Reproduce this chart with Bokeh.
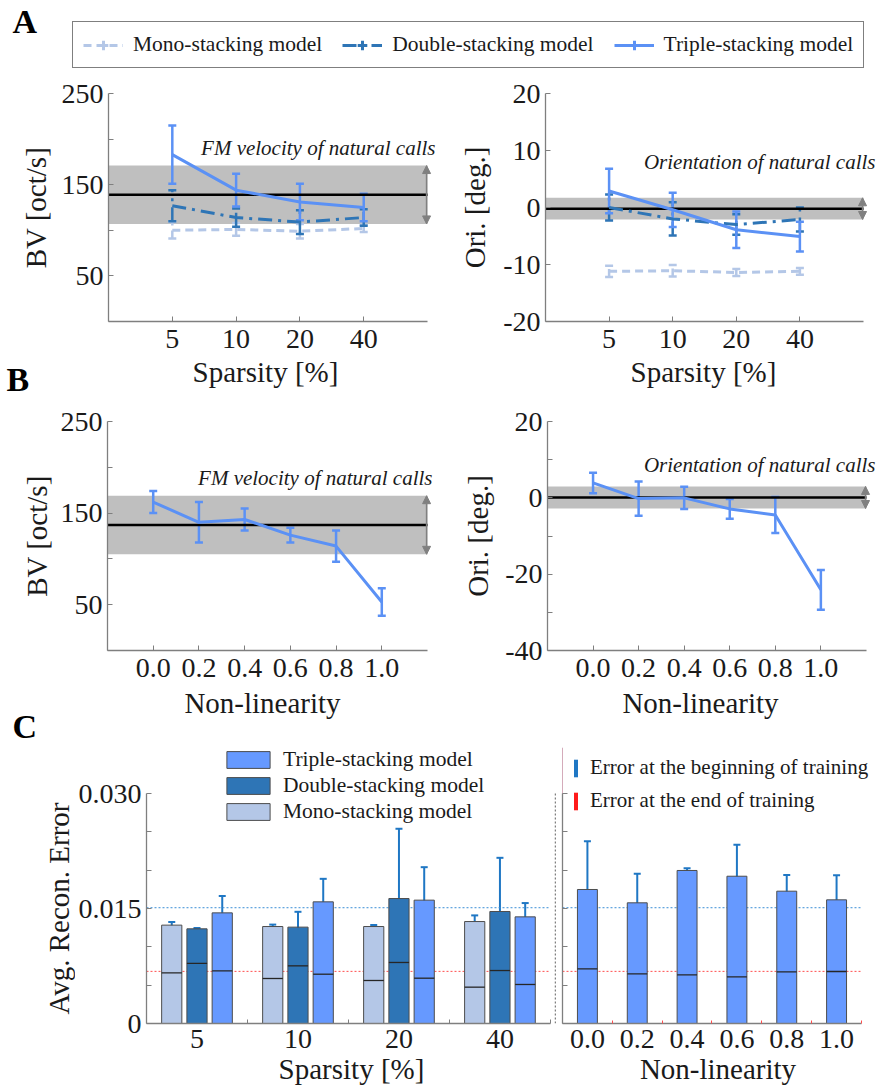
import numpy as np
from bokeh.plotting import figure
from bokeh.models import (ColumnDataSource, Whisker, TeeHead, BoxAnnotation, Arrow,
                          NormalHead, Label, Legend, LegendItem, FixedTicker)
from bokeh.layouts import column, row
from bokeh.embed import file_html
from bokeh.resources import INLINE

SERIF = "Liberation Serif"
AXIS_GRAY = "#7f7f7f"
TEXT_DARK = "#1a1a1a"
MONO = "#b4c7e7"
DOUBLE = "#2e75b6"
TRIPLE_LINE = "#5b91f5"
TRIPLE_BAR = "#6699ff"
BLUE_ERR = "#1f77c4"
RED_ERR = "#ff1a1a"

# ---------------- data ----------------
sparsity_labels = ["5", "10", "20", "40"]
sparsity_idx = [1, 2, 3, 4]

mono_bv = [100, 101, 99, 102]
mono_bv_err = [9, 7, 8, 4]
double_bv = [127, 114, 109, 114]
double_bv_err = [17, 10, 13, 9]
triple_bv = [183, 144, 131, 125]
triple_bv_err = [32, 18, 20, 15]
natural_bv_sparsity = [139, 32]          # mean, spread

mono_ori = [-11.2, -11.1, -11.4, -11.2]
mono_ori_err = [1.0, 1.0, 0.6, 0.6]
double_ori = [0.0, -2.0, -3.0, -2.1]
double_ori_err = [2.3, 2.9, 1.8, 2.1]
triple_ori = [2.9, -0.4, -3.9, -5.1]
triple_ori_err = [3.9, 3.0, 3.2, 2.6]
natural_ori_sparsity = [-0.2, 1.9]

nonlinearity = [0.0, 0.2, 0.4, 0.6, 0.8, 1.0]
nonlinearity_labels = ["0.0", "0.2", "0.4", "0.6", "0.8", "1.0"]
triple_bv_nl = [162, 140, 143, 126, 114, 53]
triple_bv_nl_err = [12, 22, 12, 8, 17, 15]
natural_bv_nl = [137, 32]
triple_ori_nl = [3.9, -0.2, 0.0, -2.9, -4.5, -24.1]
triple_ori_nl_err = [2.7, 4.5, 2.9, 2.6, 4.7, 5.2]
natural_ori_nl = [0.1, 2.9]

# C: reconstruction error at beginning / end of training
mono_begin = [0.01283, 0.01265, 0.01265, 0.0133]
mono_begin_err = [0.0004, 0.00025, 0.0002, 0.0008]
mono_end = [0.00661, 0.00587, 0.00561, 0.00474]
mono_end_err = [0.0004, 0.0004, 0.00043, 0.0004]
double_begin = [0.01235, 0.01257, 0.0163, 0.01461]
double_begin_err = [0.0001, 0.002, 0.0091, 0.0070]
double_end = [0.00783, 0.00752, 0.00796, 0.00691]
double_end_err = [0.00065, 0.0009, 0.00135, 0.00087]
triple_begin = [0.01443, 0.01587, 0.01609, 0.01391]
triple_begin_err = [0.0022, 0.003, 0.0043, 0.0018]
triple_end = [0.00687, 0.00643, 0.00591, 0.00509]
triple_end_err = [0.00045, 0.00048, 0.00065, 0.0002]

nl_begin = [0.01748, 0.01574, 0.01996, 0.01921, 0.01726, 0.01613]
nl_begin_err = [0.0063, 0.0038, 0.0003, 0.0041, 0.0021, 0.0032]
nl_end = [0.00713, 0.00648, 0.00635, 0.00609, 0.00674, 0.00678]
nl_end_err = [0.0019, 0.0009, 0.0001, 0.0001, 0.00005, 0.0001]
ref_begin_level = 0.0151
ref_end_level = 0.0068


# ---------------- helpers ----------------
def style_axes(p, x_standoff=8, x_label_standoff=1, y_label_standoff=6):
    p.grid.visible = False
    p.outline_line_color = None
    for ax in p.axis:
        ax.axis_line_color = AXIS_GRAY
        ax.axis_line_width = 1.3
        ax.major_tick_line_color = AXIS_GRAY
        ax.minor_tick_line_color = AXIS_GRAY
        ax.major_tick_in = 5
        ax.major_tick_out = 0
        ax.minor_tick_in = 5
        ax.minor_tick_out = 0
        ax.major_label_text_font = SERIF
        ax.major_label_text_font_size = "28px"
        ax.major_label_text_color = TEXT_DARK
        ax.axis_label_text_font = SERIF
        ax.axis_label_text_font_size = "29px"
        ax.axis_label_text_font_style = "normal"
        ax.axis_label_text_color = TEXT_DARK
    p.xaxis.major_label_standoff = x_standoff
    p.xaxis.axis_label_standoff = x_label_standoff
    p.yaxis.major_label_standoff = 5
    p.yaxis.axis_label_standoff = y_label_standoff


def add_series(p, x, y, err, color, dash, lw=3):
    lo = [a - b for a, b in zip(y, err)]
    hi = [a + b for a, b in zip(y, err)]
    src = ColumnDataSource(dict(x=x, y=y, lo=lo, hi=hi))
    r = p.line("x", "y", source=src, line_color=color, line_width=lw, line_dash=dash)
    p.add_layout(Whisker(source=src, base="x", lower="lo", upper="hi", line_color=color,
                         line_width=2.5, line_dash=dash,
                         upper_head=TeeHead(size=8, line_color=color, line_width=2.5),
                         lower_head=TeeHead(size=8, line_color=color, line_width=2.5)))
    return r


def add_natural(p, stats, x0, x1, x_arrow, text, text_x, text_y):
    mean, spread = stats
    lo, hi = mean - spread, mean + spread
    p.add_layout(BoxAnnotation(left=x0, right=x1, bottom=lo, top=hi, fill_color="#bfbfbf",
                               fill_alpha=1.0, line_color=None, level="underlay"))
    p.segment(x0=[x0], x1=[x1], y0=[mean], y1=[mean], line_color="black", line_width=2.5)
    g = "#808080"
    p.add_layout(Arrow(start=NormalHead(size=8, fill_color=g, line_color=g),
                       end=NormalHead(size=8, fill_color=g, line_color=g),
                       x_start=x_arrow, y_start=lo, x_end=x_arrow, y_end=hi,
                       line_color=g, line_width=1.5))
    p.add_layout(Label(x=text_x, y=text_y, x_offset=-3, text=text, text_align="right",
                       text_baseline="alphabetic", text_font=SERIF, text_font_style="italic",
                       text_font_size="21px", text_color=TEXT_DARK))


def blank_fig(width, height, y_range=(0, 1)):
    f = figure(width=width, height=height, x_range=(0, 1), y_range=y_range, toolbar_location=None,
               output_backend="svg", x_axis_location=None, y_axis_location=None, min_border=0)
    f.grid.visible = False
    f.outline_line_color = None
    return f


def screen_text(p, txt, vx, vy, size="34px", bold=True, align="left"):
    p.add_layout(Label(x=vx, y=vy, x_units="screen", y_units="screen", text=txt,
                       text_font=SERIF, text_font_style="bold" if bold else "normal",
                       text_font_size=size, text_color="black" if bold else TEXT_DARK,
                       text_baseline="alphabetic", text_align=align))


def fig(width, height, xr, yr, l, r, t, b):
    return figure(width=width, height=height, x_range=xr, y_range=yr, toolbar_location=None,
                  output_backend="svg", min_border_left=l, min_border_right=r,
                  min_border_top=t, min_border_bottom=b)


MONO_DASH = "8 5"
DOUBLE_DASH = "14 6 3 6"

# ---------------- header with legend (y 0-78) ----------------
ph = blank_fig(879, 78)
items = []
for name, color, dash in [("Mono-stacking model", MONO, MONO_DASH),
                          ("Double-stacking model", DOUBLE, DOUBLE_DASH),
                          ("Triple-stacking model", TRIPLE_LINE, "solid")]:
    r1 = ph.line(x=[-5, -4], y=[-5, -5], line_color=color, line_width=3, line_dash=dash)
    r2 = ph.scatter(x=[-5], y=[-5], marker="cross", size=14, line_color=color, line_width=3)
    items.append(LegendItem(label=name, renderers=[r1, r2]))
ph.add_layout(Legend(items=items, orientation="horizontal", location=(72, 10), margin=0,
                     label_text_font=SERIF, label_text_font_size="21.5px", label_text_color=TEXT_DARK,
                     glyph_width=40, glyph_height=24, label_height=24, label_standoff=10,
                     spacing=20, padding=10, border_line_color="black", border_line_width=1.5,
                     background_fill_color="white", background_fill_alpha=1.0))
screen_text(ph, "A", 12, 57)

# ---------------- row A (y 78-357) ----------------
pa1 = fig(440, 279, (0, 5.172), (0, 250), 108, 2, 15, 36)
add_natural(pa1, natural_bv_sparsity, 0, 5, 4.985, "FM velocity of natural calls", 5.172, 190)
add_series(pa1, sparsity_idx, mono_bv, mono_bv_err, MONO, MONO_DASH)
add_series(pa1, sparsity_idx, double_bv, double_bv_err, DOUBLE, DOUBLE_DASH)
add_series(pa1, sparsity_idx, triple_bv, triple_bv_err, TRIPLE_LINE, "solid")
style_axes(pa1, 8, 1, 7)
pa1.xaxis.bounds = (0, 5)
pa1.xaxis.ticker = FixedTicker(ticks=sparsity_idx)
pa1.xaxis.major_label_overrides = dict(zip(sparsity_idx, sparsity_labels))
pa1.yaxis.ticker = FixedTicker(ticks=[50, 150, 250], minor_ticks=[0, 100, 200])
pa1.yaxis.axis_label = "BV [oct/s]"

pa2 = fig(439, 279, (0, 5.236), (-20, 20), 105, 1, 15, 36)
add_natural(pa2, natural_ori_sparsity, 0, 5, 4.985, "Orientation of natural calls", 5.236, 7.9)
add_series(pa2, sparsity_idx, mono_ori, mono_ori_err, MONO, MONO_DASH)
add_series(pa2, sparsity_idx, double_ori, double_ori_err, DOUBLE, DOUBLE_DASH)
add_series(pa2, sparsity_idx, triple_ori, triple_ori_err, TRIPLE_LINE, "solid")
style_axes(pa2, 8, 1, 9)
pa2.xaxis.bounds = (0, 5)
pa2.xaxis.ticker = FixedTicker(ticks=sparsity_idx)
pa2.xaxis.major_label_overrides = dict(zip(sparsity_idx, sparsity_labels))
ori_ticks = [-20, -10, 0, 10, 20]
pa2.yaxis.ticker = FixedTicker(ticks=ori_ticks)
pa2.yaxis.major_label_overrides = {t: str(t) for t in ori_ticks}
pa2.yaxis.axis_label = "Ori. [deg.]"

# strip with the x-axis titles of row A and the panel letter B (y 357-402)
s_ab = blank_fig(879, 45)
screen_text(s_ab, "Sparsity [%]", 265, 31, "29px", bold=False, align="center")
screen_text(s_ab, "Sparsity [%]", 703, 31, "29px", bold=False, align="center")
screen_text(s_ab, "B", 6, 23)

# ---------------- row B (y 402-686) ----------------
pb1 = fig(440, 284, (-0.2, 1.235), (0, 250), 107, 5, 19, 36)
add_natural(pb1, natural_bv_nl, -0.2, 1.2, 1.196, "FM velocity of natural calls", 1.235, 188)
add_series(pb1, nonlinearity, triple_bv_nl, triple_bv_nl_err, TRIPLE_LINE, "solid")
style_axes(pb1, 8, 1, 5)
pb1.xaxis.bounds = (-0.2, 1.2)
pb1.xaxis.ticker = FixedTicker(ticks=nonlinearity)
pb1.xaxis.major_label_overrides = dict(zip(nonlinearity, nonlinearity_labels))
pb1.yaxis.ticker = FixedTicker(ticks=[50, 150, 250], minor_ticks=[0, 100, 200])
pb1.yaxis.axis_label = "BV [oct/s]"

pb2 = fig(439, 284, (-0.2, 1.253), (-40, 20), 107, 1, 19, 36)
add_natural(pb2, natural_ori_nl, -0.2, 1.2, 1.196, "Orientation of natural calls", 1.253, 8.7)
add_series(pb2, nonlinearity, triple_ori_nl, triple_ori_nl_err, TRIPLE_LINE, "solid")
style_axes(pb2, 8, 1, 8)
pb2.xaxis.bounds = (-0.2, 1.2)
pb2.xaxis.ticker = FixedTicker(ticks=nonlinearity)
pb2.xaxis.major_label_overrides = dict(zip(nonlinearity, nonlinearity_labels))
ori_nl_ticks = [-40, -20, 0, 20]
pb2.yaxis.ticker = FixedTicker(ticks=ori_nl_ticks, minor_ticks=[-30, -10, 10])
pb2.yaxis.major_label_overrides = {t: str(t) for t in ori_nl_ticks}
pb2.yaxis.axis_label = "Ori. [deg.]"

# strip with the x-axis titles of row B and the panel letter C (y 686-747)
s_bc = blank_fig(879, 61)
screen_text(s_bc, "Non-linearity", 262, 45, "29px", bold=False, align="center")
screen_text(s_bc, "Non-linearity", 700, 45, "29px", bold=False, align="center")
screen_text(s_bc, "C", 12, 21)

# ---------------- row C (y 747-1087) ----------------
err_ticks = [0, 0.015, 0.03]
err_minor = [0.005, 0.01, 0.02, 0.025]
err_labels = ["0", "0.015", "0.030"]
err_top = 0.036   # room above the axis for the legends


def add_bars(p, x, begin, begin_err, end, end_err, color, bw):
    src = ColumnDataSource(dict(
        x=x, top=begin, end=end,
        x0=[v - bw / 2 for v in x], x1=[v + bw / 2 for v in x],
        blo=[a - b for a, b in zip(begin, begin_err)], bhi=[a + b for a, b in zip(begin, begin_err)],
        elo=[a - b for a, b in zip(end, end_err)], ehi=[a + b for a, b in zip(end, end_err)]))
    r = p.vbar(x="x", top="top", bottom=0, width=bw, source=src, fill_color=color,
               line_color="#4d4d4d", line_width=1)
    p.segment(x0="x0", x1="x1", y0="end", y1="end", source=src, line_color="#262626", line_width=1.3)
    p.add_layout(Whisker(source=src, base="x", lower="blo", upper="bhi", line_color=BLUE_ERR,
                         line_width=2,
                         upper_head=TeeHead(size=7, line_color=BLUE_ERR, line_width=2),
                         lower_head=TeeHead(size=7, line_color=BLUE_ERR, line_width=2)))
    p.add_layout(Whisker(source=src, base="x", lower="elo", upper="ehi", line_color=RED_ERR,
                         line_width=2.5,
                         upper_head=TeeHead(size=6, line_color=RED_ERR, line_width=2.5),
                         lower_head=TeeHead(size=6, line_color=RED_ERR, line_width=2.5)))
    return r


def add_ref_levels(p, x0, x1):
    p.segment(x0=[x0], x1=[x1], y0=[ref_begin_level], y1=[ref_begin_level],
              line_color="#3a8fd6", line_dash="2 2", line_width=1)
    p.segment(x0=[x0], x1=[x1], y0=[ref_end_level], y1=[ref_end_level],
              line_color="#ff4d4d", line_dash="2 2", line_width=1)


pc1 = fig(481, 340, (-0.5, 3.56), (0, err_top), 68, 0, 0, 64)
groups = list(range(len(sparsity_labels)))
add_ref_levels(pc1, -0.5, 3.5)
bw = 0.2
r_mono = add_bars(pc1, [g - 0.25 for g in groups], mono_begin, mono_begin_err, mono_end, mono_end_err, MONO, bw)
r_double = add_bars(pc1, [g for g in groups], double_begin, double_begin_err, double_end, double_end_err, DOUBLE, bw)
r_triple = add_bars(pc1, [g + 0.25 for g in groups], triple_begin, triple_begin_err, triple_end, triple_end_err, TRIPLE_BAR, bw)
pc1.segment(x0=[3.55], x1=[3.55], y0=[0], y1=[0.03], line_color="#808080", line_dash="2 2", line_width=1.5)
style_axes(pc1, 6, 2, 4)
pc1.xaxis.bounds = (-0.5, 3.5)
pc1.yaxis.bounds = (0, 0.03)
pc1.xaxis.ticker = FixedTicker(ticks=groups, minor_ticks=[g + 0.5 for g in groups])
pc1.xaxis.major_label_overrides = dict(zip(groups, sparsity_labels))
pc1.xaxis.major_tick_in = 0
pc1.xaxis.minor_tick_in = 4
pc1.yaxis.ticker = FixedTicker(ticks=err_ticks, minor_ticks=err_minor)
pc1.yaxis.major_label_overrides = dict(zip(err_ticks, err_labels))
pc1.xaxis.axis_label = "Sparsity [%]"
pc1.add_layout(Legend(items=[LegendItem(label="Triple-stacking model", renderers=[r_triple]),
                             LegendItem(label="Double-stacking model", renderers=[r_double]),
                             LegendItem(label="Mono-stacking model", renderers=[r_mono])],
                      location=(75, 199), margin=0, padding=0, spacing=1,
                      glyph_width=54, glyph_height=21, label_height=21, label_standoff=8,
                      label_text_font=SERIF, label_text_font_size="21.5px", label_text_color=TEXT_DARK,
                      border_line_color=None, background_fill_alpha=0))

# y-axis title of the bar chart, centred on the 0 - 0.030 axis
fcy = blank_fig(75, 340, y_range=pc1.y_range)
fcy.add_layout(Label(x=58, y=0.015, x_units="screen", y_units="data", angle=np.pi / 2,
                     text="Avg. Recon. Error", text_align="center", text_baseline="middle",
                     text_font=SERIF, text_font_size="29px", text_color=TEXT_DARK))

pc2 = fig(323, 340, (-0.5, 5.741), (0, err_top), 6, 6, 0, 64)
nl_idx = list(range(len(nonlinearity_labels)))
add_ref_levels(pc2, -0.5, 5.5)
add_bars(pc2, nl_idx, nl_begin, nl_begin_err, nl_end, nl_end_err, TRIPLE_BAR, 0.4)
rb = pc2.vbar(x=[-10], top=[1], width=0.1, fill_color=BLUE_ERR, line_color=None)
rr = pc2.vbar(x=[-10], top=[1], width=0.1, fill_color=RED_ERR, line_color=None)
style_axes(pc2, 6, 2)
pc2.xaxis.bounds = (-0.5, 5.5)
pc2.yaxis.bounds = (0, 0.03)
pc2.xaxis.ticker = FixedTicker(ticks=nl_idx, minor_ticks=[i + 0.5 for i in nl_idx])
pc2.xaxis.major_label_overrides = dict(zip(nl_idx, nonlinearity_labels))
pc2.xaxis.major_tick_in = 0
pc2.xaxis.minor_tick_in = 3
pc2.xaxis.minor_tick_line_color = "#ff4d4d"
pc2.yaxis.ticker = FixedTicker(ticks=err_ticks, minor_ticks=err_minor)
pc2.yaxis.major_label_overrides = {t: "" for t in err_ticks}
pc2.yaxis.major_label_standoff = 0
pc2.xaxis.axis_label = "Non-linearity"
pc2.add_layout(Legend(items=[LegendItem(label="Error at the beginning of training", renderers=[rb]),
                             LegendItem(label="Error at the end of training", renderers=[rr])],
                      location=(11, 210), margin=0, padding=0, spacing=8,
                      glyph_width=5, glyph_height=22, label_height=22, label_standoff=12,
                      label_text_font=SERIF, label_text_font_size="21px", label_text_color=TEXT_DARK,
                      border_line_color=None, background_fill_alpha=0))

layout = column(ph, row(pa1, pa2), s_ab, row(pb1, pb2), s_bc, row(fcy, pc1, pc2))
open("out.html", "w").write(file_html(layout, INLINE))
